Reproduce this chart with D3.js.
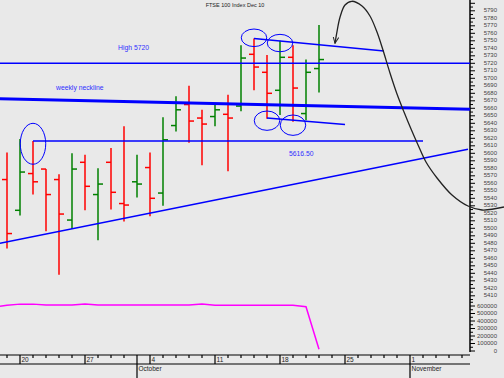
<!DOCTYPE html>
<html>
<head>
<meta charset="utf-8">
<script src="https://cdn.jsdelivr.net/npm/d3@7"></script>
<style>
  body { margin: 0; background: #e9e9e9; }
  svg { display: block; font-family: "Liberation Sans", Arial, sans-serif; }
</style>
</head>
<body>
<div class="chart"></div>
<script>
// trading days, index 0 = 16 Sep 2010
var firstDay = new Date(2010, 8, 16);
var days = d3.timeDays(firstDay, new Date(2010, 10, 9)).filter(d => d.getDay() % 6 !== 0);

// OHLC bars from 17 Sep (index 1) to 21 Oct
var opens  = [5565, 5524, 5573, 5579, 5565, 5511, 5588, 5545, 5588, 5533, 5562, 5581, 5547, 5637, 5665, 5647, 5649, 5652, 5663, 5732, 5708, 5684, 5728, 5653, 5713];
var highs  = [5601, 5619, 5616.5, 5579, 5572, 5600, 5598, 5580, 5607, 5636, 5598, 5601, 5648, 5676, 5690, 5658, 5665, 5678, 5744, 5753, 5731, 5750, 5744, 5725, 5771];
var lows   = [5473, 5517, 5545, 5496, 5438, 5499, 5524, 5484, 5525, 5509, 5541, 5516, 5530, 5629, 5614, 5584, 5636, 5576, 5656, 5684, 5646, 5651, 5642, 5644, 5681];
var closes = [5493, 5575, 5562, 5545, 5519, 5579, 5556, 5559, 5548, 5531, 5559, 5540, 5618, 5658, 5643, 5639, 5658, 5647, 5727, 5715, 5680, 5728, 5687, 5708, 5725];

// volume from 16 Sep (index 0)
var volumes = [596000, 610000, 625000, 625000, 612000, 612000, 612000, 626000, 612000, 612000, 612000, 612000, 612000, 612000, 612000, 612000, 626000, 610000, 610000, 610000, 610000, 610000, 610000, 610000, 591000, 23000];

var priceTicks = d3.range(5405, 5801, 5);
var volTicks = d3.range(0, 650001, 50000);

// annotations, in [day index, price]
var highLevel = 5720;
var breakLevel = 5616.5;
var neckline = [[0.46, 5672.8], [36.62, 5658.7]];
var lowerTrend = [[0.46, 5480], [36.46, 5605.3]];
var topTrend = [[20, 5753], [30, 5736.4]];
var bottomTrend = [[21, 5647], [27, 5638.4]];
var rings = [[3, 5612.7, 27.3], [20, 5754, 11.7], [22, 5747, 11.6], [21, 5643.5, 12.9], [23, 5637.5, 13.6]];
var swoop = [[26.23, 5746.7], [26.36, 5760], [26.62, 5781.7], [27.0, 5797.7], [27.52, 5802.7], [28.31, 5796.4],
  [28.92, 5783.1], [29.46, 5761.7], [29.92, 5737.7], [30.46, 5707.1], [31.0, 5679.1], [31.54, 5655.1],
  [32.08, 5632.4], [32.62, 5611.1], [33.23, 5588.4], [34.08, 5567.1], [35.23, 5544.4], [36.46, 5529.7],
  [37.54, 5524.4], [39.23, 5528.4]];

var svgWidth = 504;
var svgHeight = 378;
var axisX = 470;

var svg = d3.select(".chart")
  .append("svg")
  .attr("width", svgWidth)
  .attr("height", svgHeight);

svg.append("rect").attr("width", svgWidth).attr("height", svgHeight).attr("fill", "#e9e9e9");

// scales
var x = d3.scaleLinear().domain([0, 36]).range([-6, 462]);
var y = d3.scaleLinear().domain([5400, 5800]).range([303.3, 3.3]);
var yVol = d3.scaleLinear().domain([0, 600000]).range([351, 306]);

var blue = "#0000ff";

// title
svg.append("text")
  .attr("x", 235).attr("y", 7)
  .attr("text-anchor", "middle")
  .attr("font-size", "5.5px")
  .attr("fill", "#222")
  .text("FTSE 100 Index Dec 10");

// right axis
var axis = svg.append("g").attr("stroke", "#000");
axis.append("line").attr("x1", axisX).attr("x2", axisX).attr("y1", 0).attr("y2", 352).attr("stroke-width", 1.5);
axis.selectAll(".pt").data(priceTicks).enter().append("line")
  .attr("x1", axisX).attr("x2", d => axisX + (d % 10 === 0 ? 5 : 3))
  .attr("y1", d => y(d)).attr("y2", d => y(d));
axis.selectAll(".vt").data(volTicks).enter().append("line")
  .attr("x1", axisX).attr("x2", d => axisX + (d % 100000 === 0 ? 5 : 3))
  .attr("y1", d => yVol(d)).attr("y2", d => yVol(d));

svg.selectAll(".plabel").data(priceTicks.filter(d => d % 10 === 0 && d > 5400 && d < 5800)).enter().append("text")
  .attr("x", 497).attr("y", d => y(d) + 1.5)
  .attr("text-anchor", "end").attr("font-size", "6px").attr("fill", "#444")
  .text(d => d);
svg.selectAll(".vlabel").data(volTicks.filter(d => d % 100000 === 0)).enter().append("text")
  .attr("x", 497).attr("y", d => yVol(d) + 1.5)
  .attr("text-anchor", "end").attr("font-size", "6px").attr("fill", "#444")
  .text(d => d);

// bottom date axis
var dateAxis = svg.append("g").attr("stroke", "#000").attr("stroke-width", 1.2);
dateAxis.append("line").attr("x1", 0).attr("x2", axisX).attr("y1", 355).attr("y2", 355);
dateAxis.append("line").attr("x1", 0).attr("x2", axisX).attr("y1", 364).attr("y2", 364);
days.forEach(function (d, i) {
  var xi = x(i);
  if (xi < 0 || xi > axisX) return;
  var monday = d.getDay() === 1;
  var prev = days[i - 1];
  var newMonth = prev && prev.getMonth() !== d.getMonth();
  dateAxis.append("line")
    .attr("x1", xi).attr("x2", xi)
    .attr("y1", 355).attr("y2", newMonth ? 378 : (monday ? 364 : 358));
  if (monday) {
    svg.append("text").attr("x", xi + 1.5).attr("y", 361.5)
      .attr("font-size", "6.5px").attr("fill", "#222").text(d.getDate());
  }
  if (newMonth) {
    svg.append("text").attr("x", xi + 1.5).attr("y", 370.5)
      .attr("font-size", "6.5px").attr("fill", "#222").text(d3.timeFormat("%B")(d));
  }
});

// OHLC bars, coloured against the previous close
var bars = opens.map(function (o, k) {
  var prevClose = k === 0 ? o : closes[k - 1];
  return { i: k + 1, o: o, h: highs[k], l: lows[k], c: closes[k], up: closes[k] >= prevClose };
});

var barGroup = svg.append("g").attr("stroke-width", 1.5);
var bar = barGroup.selectAll("g").data(bars).enter().append("g")
  .attr("stroke", d => d.up ? "#008000" : "#ff0000");
bar.append("line").attr("x1", d => x(d.i)).attr("x2", d => x(d.i)).attr("y1", d => y(d.h)).attr("y2", d => y(d.l));
bar.append("line").attr("x1", d => x(d.i) - 5).attr("x2", d => x(d.i)).attr("y1", d => y(d.o)).attr("y2", d => y(d.o));
bar.append("line").attr("x1", d => x(d.i)).attr("x2", d => x(d.i) + 5).attr("y1", d => y(d.c)).attr("y2", d => y(d.c));

// volume line
svg.append("path")
  .datum(volumes)
  .attr("fill", "none")
  .attr("stroke", "#ff00ff")
  .attr("stroke-width", 1.5)
  .attr("d", d3.line().x((d, i) => Math.max(0, x(i))).y(d => yVol(d)));

// annotations
var seg = d3.line().x(d => x(d[0])).y(d => y(d[1]));

svg.append("line")
  .attr("x1", 0).attr("x2", axisX).attr("y1", y(highLevel)).attr("y2", y(highLevel))
  .attr("stroke", blue).attr("stroke-width", 1.6);
svg.append("line")
  .attr("x1", x(3)).attr("x2", x(33)).attr("y1", y(breakLevel)).attr("y2", y(breakLevel))
  .attr("stroke", blue).attr("stroke-width", 1.6);

svg.append("path").attr("d", seg(neckline)).attr("stroke", blue).attr("stroke-width", 3).attr("fill", "none");
svg.append("path").attr("d", seg(lowerTrend)).attr("stroke", blue).attr("stroke-width", 1.6).attr("fill", "none");
svg.append("path").attr("d", seg(topTrend)).attr("stroke", blue).attr("stroke-width", 1.6).attr("fill", "none");
svg.append("path").attr("d", seg(bottomTrend)).attr("stroke", blue).attr("stroke-width", 1.6).attr("fill", "none");

svg.selectAll(".ring").data(rings).enter().append("ellipse")
  .attr("cx", d => x(d[0])).attr("cy", d => y(d[1]))
  .attr("rx", x(0.98) - x(0)).attr("ry", d => y(d[1] - d[2]) - y(d[1]))
  .attr("fill", "none").attr("stroke", blue).attr("stroke-width", 1);

// arrow curve
svg.append("defs").append("marker")
  .attr("id", "arrow")
  .attr("viewBox", "0 -5 10 10")
  .attr("refX", 9).attr("refY", 0)
  .attr("markerWidth", 7).attr("markerHeight", 7)
  .attr("markerUnits", "userSpaceOnUse")
  .attr("orient", "auto-start-reverse")
  .append("path")
  .attr("d", "M0,-4L9,0L0,4")
  .attr("fill", "none").attr("stroke", "#222").attr("stroke-width", 1.4);

svg.append("path")
  .attr("d", d3.line().x(d => x(d[0])).y(d => y(d[1])).curve(d3.curveCatmullRom.alpha(0.5))(swoop))
  .attr("fill", "none").attr("stroke", "#222").attr("stroke-width", 1.3)
  .attr("marker-start", "url(#arrow)");

// annotation text
var note = svg.append("g").attr("font-size", "6.8px").attr("fill", "#3030ff");
note.append("text").attr("x", x(9.54)).attr("y", y(5737.7)).text("High 5720");
note.append("text").attr("x", x(4.77)).attr("y", y(5685)).text("weekly neckline");
note.append("text").attr("x", x(22.69)).attr("y", y(5597)).text("5616.50");
</script>
</body>
</html>
